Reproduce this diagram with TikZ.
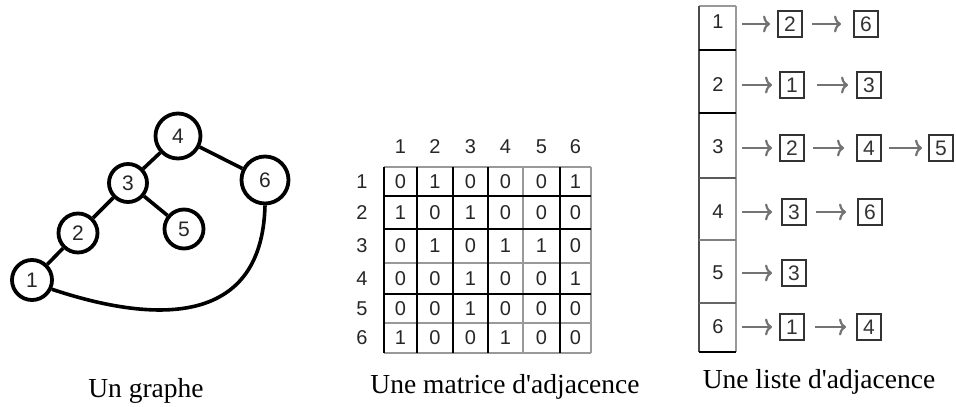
\documentclass[tikz,border=0pt]{standalone}
\usepackage{fontspec}
\setmainfont{Liberation Serif}
\newfontfamily\digits{Liberation Sans}
\usetikzlibrary{arrows.meta}
\tikzset{
  gn/.style={circle,draw,line width=3.8pt,inner sep=0pt,font=\digits\fontsize{21}{21}\selectfont,text=black!85},
  ge/.style={line width=3.6pt},
  captxt/.style={anchor=base,inner sep=0pt,font=\fontsize{27.5}{28}\selectfont},
  mlab/.style={inner sep=0pt,font=\digits\fontsize{20}{20}\selectfont,text=black!85},
  blk/.style={line width=2.4pt,black},
  gry/.style={line width=2.8pt,black!40},
  lcell/.style={inner sep=0pt,font=\digits\fontsize{20}{20}\selectfont,text=black!85},
  lbox/.style={draw=black!80,line width=2pt,minimum width=24pt,minimum height=26pt,inner sep=0pt,font=\digits\fontsize{21}{21}\selectfont,text=black!80},
  larr/.style={black!55,line width=2.2pt,-{To[length=7pt,width=17pt]},shorten <=5pt,shorten >=7pt}
}
\newcommand\mrow[3]{\foreach \v/\x [count=\c] in {#2} \node[mlab] (m#1\c) at (\x,#3) {\v};}
\begin{document}
\begin{tikzpicture}[x=1pt,y=-1pt]
\useasboundingbox (0,0) rectangle (956,407);
% ---------- graph ----------
\node[gn,minimum size=40pt] (g1) at (32,280) {1};
\node[gn,minimum size=39pt] (g2) at (78,233) {2};
\node[gn,minimum size=38pt] (g3) at (128,183) {3};
\node[gn,minimum size=45pt] (g4) at (178,136) {4};
\node[gn,minimum size=39pt] (g5) at (184,229) {5};
\node[gn,minimum size=47pt] (g6) at (265,180) {6};
\draw[ge] (g1) -- (g2);
\draw[ge] (g2) -- (g3);
\draw[ge] (g3) -- (g4);
\draw[ge] (g3) -- (g5);
\draw[ge] (g4) -- (g6);
\draw[ge] (g1.-25) .. controls (150,322) and (262,330) .. (g6.south);
\node[captxt] (c1) at (146,397) {Un graphe};
% ---------- matrix ----------
\foreach \x in {523,591}
  \draw[gry] (\x,167) -- (\x,353);
\foreach \y in {167,263,323,353}
  \draw[gry] (384,\y) -- (591,\y);
\foreach \y in {196,229,294}
  \draw[blk] (384,\y) -- (591,\y);
\foreach \x in {384,417,453,488,560}
  \draw[blk] (\x,167) -- (\x,353);
\foreach \x [count=\c] in {400.5,435,470.5,505.5,541.5,575.5}
  \node[mlab] (h\c) at (\x,147) {\c};
\foreach \y [count=\r] in {181.5,212.5,246,278.5,308.5,338}
  \node[mlab] (r\r) at (362,\y) {\r};
\mrow{1}{0/400.5,1/435,0/470.5,0/505.5,0/541.5,1/575.5}{181.5}
\mrow{2}{1/400.5,0/435,1/470.5,0/505.5,0/541.5,0/575.5}{212.5}
\mrow{3}{0/400.5,1/435,0/470.5,1/505.5,1/541.5,0/575.5}{246}
\mrow{4}{0/400.5,0/435,1/470.5,0/505.5,0/541.5,1/575.5}{278.5}
\mrow{5}{0/400.5,0/435,1/470.5,0/505.5,0/541.5,0/575.5}{308.5}
\mrow{6}{1/400.5,0/435,0/470.5,1/505.5,0/541.5,0/575.5}{338}
\node[captxt] (c2) at (505,393) {Une matrice d\textquotesingle adjacence};
% ---------- list ----------
\draw[line width=2.2pt,black!40] (699,6) -- (736,6);
\draw[line width=2.2pt,black!70] (699,6) -- (699,352);
\draw[line width=2.6pt,black!40] (736,6) -- (736,352);
\draw[line width=2.2pt,black] (699,352) -- (736,352);
\foreach \y/\c in {50/black,113/black,178/black!65,240/black!50,303/black!60}
  \draw[line width=2.2pt,\c] (699,\y) -- (736,\y);
\foreach \y [count=\r] in {22,85,147,212,273,327}
  \node[lcell] (l\r) at (718,\y) {\r};
\foreach \y [count=\r] in {24,85,148,212,273,327}
  \coordinate (e\r) at (737,\y);
% row 1
\node[lbox] (b11) at (790,24) {2};
\node[lbox] (b12) at (866,24) {6};
\draw[larr] (e1) -- (b11);
\draw[larr,shorten <=9pt,shorten >=12pt] (b11) -- (b12);
% row 2
\node[lbox] (b21) at (792,85) {1};
\node[lbox] (b22) at (869,85) {3};
\draw[larr] (e2) -- (b21);
\draw[larr,shorten <=12pt,shorten >=8pt] (b21) -- (b22);
% row 3
\node[lbox] (b31) at (792,148) {2};
\node[lbox] (b32) at (869,148) {4};
\node[lbox] (b33) at (941,148) {5};
\draw[larr] (e3) -- (b31);
\draw[larr,shorten <=8pt,shorten >=12pt] (b31) -- (b32);
\draw[larr,shorten <=7pt,shorten >=6pt] (b32) -- (b33);
% row 4
\node[lbox] (b41) at (794,212) {3};
\node[lbox] (b42) at (870,212) {6};
\draw[larr,shorten >=9pt] (e4) -- (b41);
\draw[larr,shorten <=9pt,shorten >=11pt] (b41) -- (b42);
% row 5
\node[lbox] (b51) at (794,273) {3};
\draw[larr,shorten >=9pt] (e5) -- (b51);
% row 6
\node[lbox] (b61) at (792,327) {1};
\node[lbox] (b62) at (869,327) {4};
\draw[larr] (e6) -- (b61);
\draw[larr,shorten <=10pt,shorten >=10pt] (b61) -- (b62);
\node[captxt] (c3) at (819,388) {Une liste d\textquotesingle adjacence};
\end{tikzpicture}
\end{document}
